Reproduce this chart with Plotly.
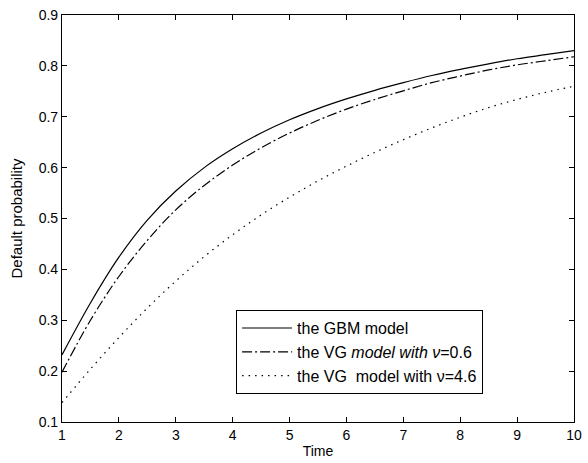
import plotly.graph_objects as go

# Time grid (years)
time = [1.0, 1.5, 2.0, 2.5, 3.0, 3.5, 4.0, 4.5, 5.0, 5.5,
        6.0, 6.5, 7.0, 7.5, 8.0, 8.5, 9.0, 9.5, 10.0]

# Default probabilities for each model
p_gbm = [0.232, 0.334, 0.424, 0.497, 0.554, 0.600, 0.637, 0.668, 0.694, 0.716,
         0.735, 0.752, 0.767, 0.781, 0.793, 0.804, 0.814, 0.822, 0.830]
p_vg_06 = [0.198, 0.300, 0.386, 0.457, 0.517, 0.565, 0.605, 0.639, 0.668, 0.693,
           0.715, 0.734, 0.751, 0.767, 0.780, 0.792, 0.802, 0.810, 0.818]
p_vg_46 = [0.138, 0.204, 0.266, 0.324, 0.377, 0.425, 0.468, 0.507, 0.542, 0.574,
           0.603, 0.630, 0.655, 0.678, 0.699, 0.718, 0.734, 0.748, 0.760]

x_ticks = [1, 2, 3, 4, 5, 6, 7, 8, 9, 10]
y_ticks = [0.1, 0.2, 0.3, 0.4, 0.5, 0.6, 0.7, 0.8, 0.9]

FONT = "Liberation Sans, Arial, Helvetica, sans-serif"

fig = go.Figure()
fig.add_trace(go.Scatter(
    x=time, y=p_gbm, mode="lines", line_shape="spline",
    line=dict(color="black", width=1.2),
    name="the GBM model"))
fig.add_trace(go.Scatter(
    x=time, y=p_vg_06, mode="lines", line_shape="spline",
    line=dict(color="black", width=1.2, dash="10px,3px,2px,3px"),
    name="the VG <i>model with ν</i>=0.6"))
fig.add_trace(go.Scatter(
    x=time, y=p_vg_46, mode="lines", line_shape="spline",
    line=dict(color="black", width=1.2, dash="1.5px,5px"),
    name="the VG\u00a0 model with ν=4.6"))

axis_common = dict(
    showline=True, linecolor="black", linewidth=1.2, mirror="ticks",
    ticks="inside", ticklen=5, tickwidth=1, tickcolor="black",
    showgrid=False, zeroline=False, ticklabeloverflow="allow",
    tickfont=dict(family=FONT, size=14, color="black"),
)

fig.update_xaxes(range=[1, 10], tickvals=x_ticks, ticktext=[str(t) for t in x_ticks],
                 title=dict(text="Time", font=dict(family=FONT, size=14, color="black"),
                            standoff=4),
                 **axis_common)
fig.update_yaxes(range=[0.1, 0.9], tickvals=y_ticks, ticktext=[f"{t:.1f}" for t in y_ticks],
                 title=dict(text="Default probability", font=dict(family=FONT, size=15, color="black"),
                            standoff=12),
                 **axis_common)

fig.update_layout(
    width=588, height=463,
    margin=dict(l=62, r=6, t=15, b=41),
    paper_bgcolor="white", plot_bgcolor="white",
    font=dict(family=FONT, color="black"),
    legend=dict(
        x=0.340, y=0.275, xanchor="left", yanchor="top",
        bgcolor="white", bordercolor="black", borderwidth=1,
        font=dict(family=FONT, size=16, color="black"),
        itemwidth=50, tracegroupgap=0,
    ),
)

fig.write_html("out.html")
